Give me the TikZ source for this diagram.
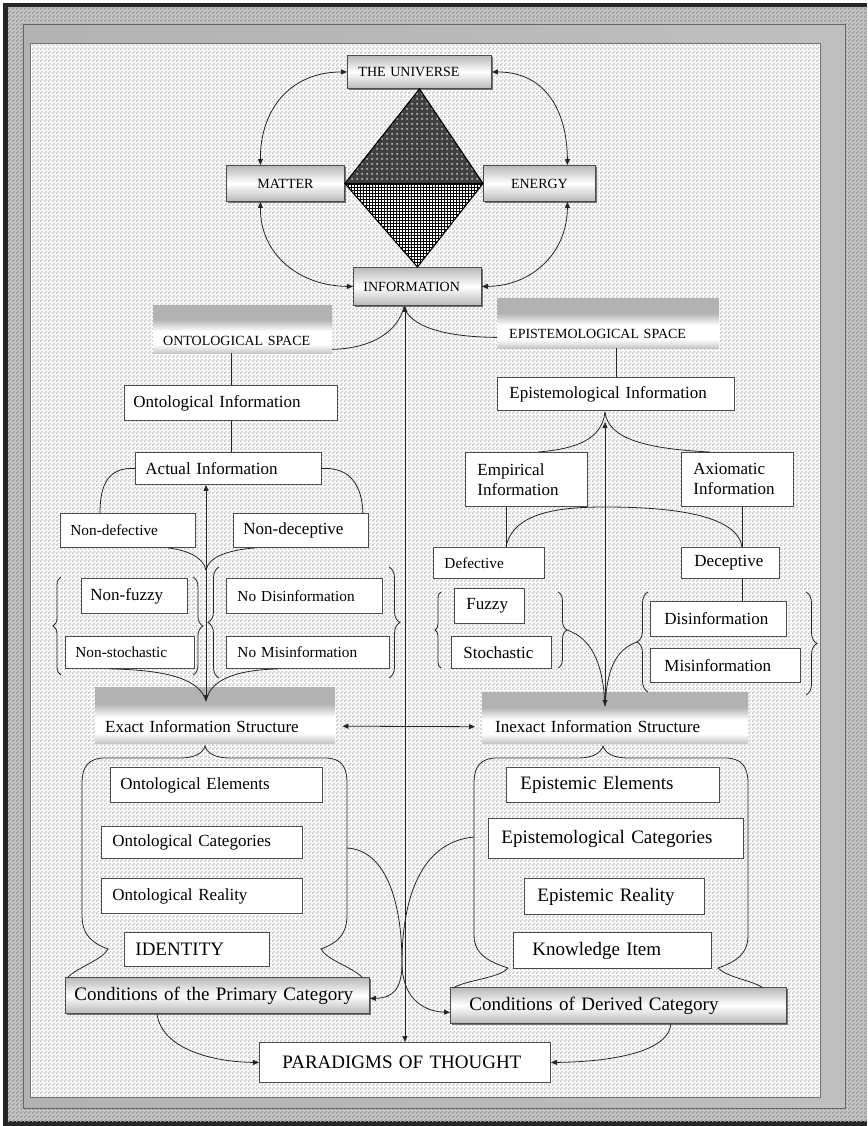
\documentclass[tikz,border=0pt]{standalone}
\usepackage{fontspec}
\setmainfont{Liberation Serif}
\usetikzlibrary{arrows.meta,patterns,decorations.pathreplacing,shadows}
\pgfdeclareverticalshading{bannershade}{100bp}{color(0bp)=(gray!45); color(25bp)=(gray!45); color(34bp)=(white); color(48bp)=(white); color(60bp)=(gray!60); color(100bp)=(gray!60)}
\pgfdeclarepatternformonly{chequer}{\pgfpointorigin}{\pgfpoint{4pt}{4pt}}{\pgfpoint{4pt}{4pt}}{%
  \pgfpathrectangle{\pgfpointorigin}{\pgfpoint{2pt}{2pt}}%
  \pgfpathrectangle{\pgfpoint{2pt}{2pt}}{\pgfpoint{2pt}{2pt}}%
  \pgfusepath{fill}}
\pgfdeclarepatternformonly{beads}{\pgfpointorigin}{\pgfpoint{5pt}{5pt}}{\pgfpoint{5pt}{5pt}}{%
  \pgfpathcircle{\pgfpoint{2.5pt}{2.5pt}}{1.3pt}%
  \pgfusepath{fill}}
\tikzset{
  box/.style={draw=black!70, fill=white, line width=0.9pt, anchor=north west, align=left, inner ysep=0pt},
  tube/.style={box, top color=gray!55, bottom color=gray!55, middle color=white,
    drop shadow={shadow xshift=1.2pt, shadow yshift=-1.2pt, fill=black!55, opacity=1}},
  banner/.style={anchor=north west, shading=bannershade, inner ysep=0pt, align=left},
  link/.style={line width=0.8pt, draw=black!85},
  pointer/.style={link, ->},
  twoway/.style={link, <->},
  curly/.style={link, decorate, decoration={brace, amplitude=#1}},
  t14/.style={font=\fontsize{14}{16}\selectfont},
  t15/.style={font=\fontsize{15.3}{18}\selectfont},
  t17/.style={font=\fontsize{17}{20}\selectfont},
  t19/.style={font=\fontsize{19}{22}\selectfont}
}
\begin{document}
\begin{tikzpicture}[x=1pt,y=-1pt,>={Triangle[length=6pt,width=5pt]}]
% frame
\useasboundingbox (0,0) rectangle (867,1126);
\fill[white] (0,0) rectangle (867,1126);
\fill[black!85] (3,3) rectangle (867,1126);
\fill[gray!45] (8,7) rectangle (867,1121);
\fill[pattern=chequer, pattern color=gray!80] (8,7) rectangle (867,1121);
\draw[black!60, line width=0.8pt, left color=gray!60, right color=gray!50] (23,24) rectangle (845,1108);
\fill[white] (30,43) rectangle (820,1097);
\fill[pattern=chequer, pattern color=gray!42] (30,43) rectangle (820,1097);
\draw[black!55, line width=0.8pt] (30,43) rectangle (820,1097);
% the universe
\node (uni) [tube, t14, minimum height=33pt, text width=122pt, inner xsep=11pt] at (347,55) {THE UNIVERSE};
\node (mat) [tube, t14, minimum height=36pt, text width=108pt, inner xsep=5pt, align=center] at (226,165) {MATTER};
\node (ene) [tube, t14, minimum height=36pt, text width=102pt, inner xsep=5pt, align=center] at (483,165) {ENERGY};
\node (info) [tube, t14, minimum height=38pt, text width=108pt, inner xsep=10pt] at (353,267) {INFORMATION};
\fill[black!75] (uni.south) -- (mat.east) -- (ene.west) -- cycle;
\fill[pattern=beads, pattern color=gray!55] (uni.south) -- (mat.east) -- (ene.west) -- cycle;
\fill[white] (mat.east) -- (ene.west) -- (info.north) -- cycle;
\fill[pattern=grid, pattern color=black] (mat.east) -- (ene.west) -- (info.north) -- cycle;
\draw[line width=1.1pt] (uni.south) -- (mat.east) -- (info.north) -- (ene.west) -- cycle
  (mat.east) -- (ene.west);
\draw[twoway] (uni.west) .. controls (290,72) and (260,110) .. ([xshift=-25pt]mat.north);
\draw[twoway] (uni.east) .. controls (545,72) and (567,110) .. ([xshift=28pt]ene.north);
\draw[twoway] ([xshift=-25pt]mat.south) .. controls (260,255) and (300,286) .. (info.west);
\draw[twoway] ([xshift=28pt]ene.south) .. controls (567,255) and (530,286) .. (info.east);
% spaces
\node (onto) [banner, t14, text width=159pt, inner xsep=10pt, text height=40pt, text depth=8pt] at (153,305) {ONTOLOGICAL SPACE};
\node (epi) [banner, t14, text width=198pt, inner xsep=12pt, text height=40pt, text depth=10pt] at (497,298) {EPISTEMOLOGICAL SPACE};
\node (para) [box, t19, minimum height=40pt, text width=245pt, inner xsep=23pt] at (259,1042) {PARADIGMS OF THOUGHT};
\coordinate (hub) at (404,307);
\draw[link] ([yshift=4pt]onto.south east) .. controls (375,348) and (398,330) .. (hub);
\draw[link] ([yshift=11pt]epi.south west) .. controls (440,337) and (410,325) .. (hub);
\draw[twoway] (info.south -| para.north) -- (para.north);
% ontological side
\node (oinf) [box, t17, minimum height=35pt, text width=195pt, inner xsep=9pt] at (124,385) {Ontological Information};
\node (act) [box, t17, minimum height=32pt, text width=166pt, inner xsep=10pt] at (135,452) {Actual Information};
\node (ndef) [box, t15, minimum height=34pt, text width=115pt, inner xsep=10pt] at (60,513) {Non-defective};
\node (ndec) [box, t17, minimum height=34pt, text width=115pt, inner xsep=10pt] at (233,513) {Non-deceptive};
\node (nfuz) [box, t17, minimum height=35pt, text width=88pt, inner xsep=9pt] at (81,578) {Non-fuzzy};
\node (nsto) [box, t15, minimum height=32pt, text width=109pt, inner xsep=10pt] at (65,636) {Non-stochastic};
\node (ndis) [box, t15, minimum height=35pt, text width=134pt, inner xsep=11pt] at (226,578) {No Disinformation};
\node (nmis) [box, t15, minimum height=32pt, text width=141pt, inner xsep=11pt] at (226,636) {No Misinformation};
\node (exact) [banner, t17, text width=220pt, inner xsep=10pt, text height=45pt, text depth=11pt] at (95,687) {Exact Information Structure};
\coordinate (j1) at (206,570);
\coordinate (j3) at (206,701);
\draw[link] (oinf.north |- onto.south) -- (oinf.north);
\draw[link] (oinf.south) -- (oinf.south |- act.north);
\draw[link] (act.west) .. controls (108,467) and (100,485) .. ([xshift=40pt]ndef.north west);
\draw[link] (act.east) .. controls (350,467) and (362,485) .. ([xshift=-6pt]ndec.north east);
\draw[twoway] (act.south -| j1) -- (j3);
\draw[link] ([xshift=-28pt]ndef.south east) .. controls (185,550) and (203,556) .. (j1);
\draw[link] ([xshift=22pt]ndec.south west) .. controls (230,550) and (209,556) .. (j1);
\draw[curly=8pt] (61,675) -- (61,577);
\draw[curly=10pt] (193,577) -- (193,675);
\draw[curly=11pt] (219,678) -- (219,567);
\draw[curly=11pt] (389,567) -- (389,678);
\draw[link] ([xshift=-20pt]nsto.south) .. controls (170,670) and (200,680) .. (j3);
\draw[link] ([xshift=-30pt]nmis.south) .. controls (235,670) and (210,680) .. (j3);
\node (oel) [box, t17, minimum height=35pt, text width=192pt, inner xsep=10pt] at (110,767) {Ontological Elements};
\node (ocat) [box, t17, minimum height=32pt, text width=179pt, inner xsep=11pt] at (101,826) {Ontological Categories};
\node (orea) [box, t17, minimum height=35pt, text width=179pt, inner xsep=11pt] at (101,878) {Ontological Reality};
\node (iden) [box, t19, minimum height=34pt, text width=123pt, inner xsep=11pt] at (124,932) {IDENTITY};
\node (cpri) [tube, t19, minimum height=36pt, text width=286pt, inner xsep=9pt] at (65,977) {Conditions of the Primary Category};
\draw[link] (68,977) .. controls (80,966) and (102,960) .. (108,949) .. controls (92,943) and (82,935) .. (82,915)
  -- (82,783) .. controls (82,766) and (89,758) .. (105,758) -- (180,758) .. controls (195,758) and (203,753) .. (205,746)
  .. controls (207,753) and (215,758) .. (230,758) -- (325,758) .. controls (341,758) and (347,766) .. (347,783)
  -- (347,915) .. controls (347,935) and (337,943) .. (321,949) .. controls (327,960) and (350,966) .. (362,977);
% epistemological side
\node (einf) [box, t17, minimum height=33pt, text width=213pt, inner xsep=12pt] at (497,377) {Epistemological Information};
\node (emp) [box, t17, minimum height=54pt, text width=98pt, inner xsep=12pt] at (465,452) {Empirical\\Information};
\node (axi) [box, t17, minimum height=54pt, text width=88pt, inner xsep=12pt] at (681,452) {Axiomatic\\Information};
\node (defe) [box, t15, minimum height=31pt, text width=89pt, inner xsep=11pt] at (433,547) {Defective};
\node (dece) [box, t17, minimum height=31pt, text width=72pt, inner xsep=13pt] at (681,547) {Deceptive};
\node (fuz) [box, t17, minimum height=35pt, text width=46pt, inner xsep=12pt] at (454,588) {Fuzzy};
\node (sto) [box, t17, minimum height=32pt, text width=76pt, inner xsep=12pt] at (451,636) {Stochastic};
\node (dis) [box, t17, minimum height=35pt, text width=108pt, inner xsep=14pt] at (650,601) {Disinformation};
\node (mis) [box, t17, minimum height=34pt, text width=122pt, inner xsep=14pt] at (650,648) {Misinformation};
\node (inexact) [banner, t17, text width=240pt, inner xsep=13pt, text height=40pt, text depth=11pt] at (482,692) {Inexact Information Structure};
\coordinate (k1) at (605,412);
\coordinate (k2) at (605,507);
\coordinate (k3) at (605,706);
\draw[link] (einf.north |- epi.south) -- (einf.north);
\draw[link] (k1) .. controls (602,440) and (575,449) .. ([xshift=-50pt]emp.north east);
\draw[link] (k1) .. controls (608,440) and (650,449) .. ([xshift=29pt]axi.north west);
\draw[twoway] ([yshift=-10pt]k1) -- (k3);
\draw[link] ([xshift=41pt]emp.south west) -- ([xshift=73pt]defe.north west);
\draw[link] ([xshift=61pt]axi.south west) -- ([xshift=61pt]dece.north west);
\draw[link] ([xshift=73pt]defe.north west) .. controls (513,512) and (560,507) .. (k2)
  .. controls (660,507) and (737,512) .. ([xshift=61pt]dece.north west);
\draw[link] ([xshift=61pt]dece.south west) -- ([xshift=92pt]dis.north west);
\draw[curly=6pt] (441,668) -- (441,592);
\draw[curly=9pt] (558,592) -- (558,668);
\draw[curly=11pt] (648,692) -- (648,592);
\draw[curly=11pt] (806,592) -- (806,695);
\draw[link] (567,630) .. controls (590,638) and (603,660) .. (k3);
\draw[link] (637,642) .. controls (615,650) and (607,670) .. (k3);
\draw[twoway] ([shift={(7pt,-11pt)}]exact.east) -- ([shift={(-7pt,-9pt)}]inexact.west);
\node (eel) [box, t19, minimum height=35pt, text width=185pt, inner xsep=14pt] at (506,767) {Epistemic Elements};
\node (ecat) [box, t19, minimum height=40pt, text width=229pt, inner xsep=13pt] at (488,818) {Epistemological Categories};
\node (erea) [box, t19, minimum height=36pt, text width=154pt, inner xsep=13pt] at (524,878) {Epistemic Reality};
\node (kno) [box, t19, minimum height=36pt, text width=160pt, inner xsep=19pt] at (513,932) {Knowledge Item};
\node (cder) [tube, t19, minimum height=36pt, text width=298pt, inner xsep=19pt] at (450,987) {Conditions of Derived Category};
\draw[link] (453,988) .. controls (466,980) and (500,978) .. (508,968) .. controls (490,962) and (474,955) .. (474,935)
  -- (474,783) .. controls (474,766) and (481,758) .. (497,758) -- (578,758) .. controls (593,758) and (601,753) .. (603,746)
  .. controls (605,753) and (613,758) .. (628,758) -- (725,758) .. controls (741,758) and (748,766) .. (748,783)
  -- (748,935) .. controls (748,955) and (735,962) .. (718,968) .. controls (728,978) and (752,980) .. (763,988);
% crossing curves and paradigms
\draw[pointer] (347,848) .. controls (385,850) and (402,900) .. (402,963) .. controls (402,995) and (420,1011) .. ([yshift=-7pt]cder.west);
\draw[pointer] (474,837) .. controls (420,842) and (402,900) .. (402,963) .. controls (402,990) and (392,998) .. ([yshift=-3pt]cpri.east);
\draw[pointer] ([xshift=92pt]cpri.south west) .. controls (162,1050) and (215,1062) .. (para.west);
\draw[pointer] ([xshift=-116pt]cder.south east) .. controls (668,1055) and (600,1062) .. (para.east);
\end{tikzpicture}
\end{document}
